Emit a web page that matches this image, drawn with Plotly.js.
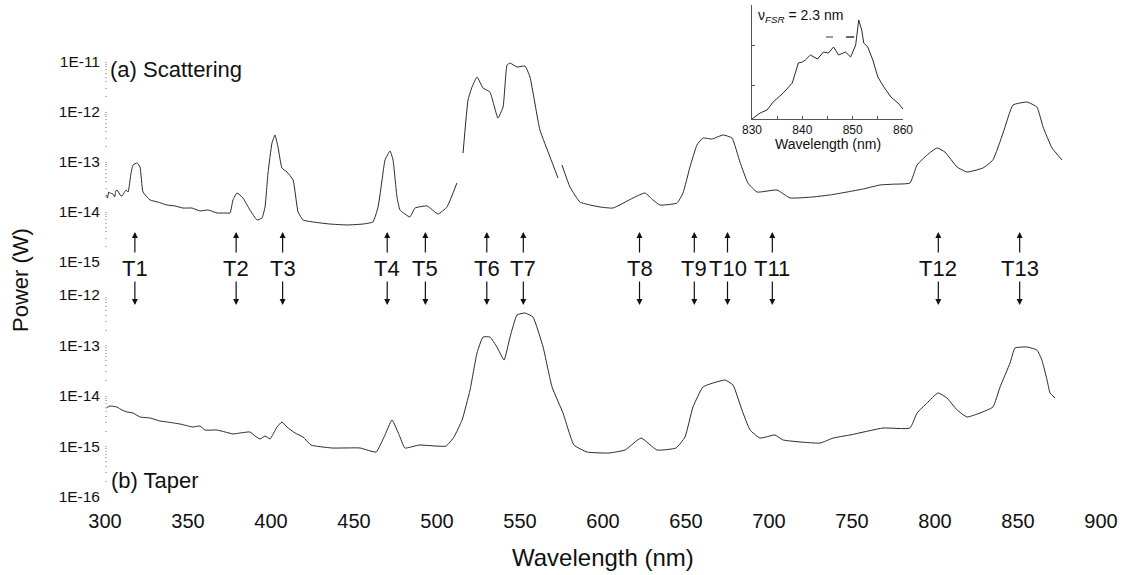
<!DOCTYPE html>
<html>
<head>
<meta charset="utf-8">
<script src="https://cdn.plot.ly/plotly-3.0.1.min.js"></script>
<style>html,body{margin:0;padding:0;background:#fff;}#chart{width:1136px;height:575px;}</style>
</head>
<body>
<div id="chart"></div>
<script>
// ---- Data ----
// (a) Scattering spectrum (W); null = gap in the trace
const wlScatter = [300.6,301.5,302.2,303.0,304.8,305.8,306.6,307.8,309.0,310.2,311.4,312.7,313.9,315.7,316.9,319.3,321.1,322.9,327.1,331.9,337.3,342.2,347.0,352.4,357.2,362.0,367.5,372.3,375.3,377.1,379.5,383.1,387.3,391.6,394.6,396.4,398.2,400.6,402.4,404.2,406.6,409.6,413.3,416.3,419.3,425.3,435.5,445.8,455.4,461.4,464.5,466.9,468.7,471.7,473.5,475.9,477.7,483.7,486.7,494.0,500.6,506.0,512.0,513.5,515.7,518.7,521.1,524.1,527.7,531.9,536.7,539.8,542.2,544.0,548.2,553.0,556.0,562.0,568.1,572.9,574.0,575.3,580.1,586.1,592.2,598.2,606.0,618.1,625.3,630.1,634.3,644.6,648.2,652.4,656.6,660.2,665.7,672.3,677.7,682.5,687.3,692.8,704.8,712.7,726.5,737.0,747.0,757.0,766.9,775.0,784.9,789.2,795.2,801.2,806.0,813.3,819.3,828.9,834.9,841.0,847.0,855.4,861.4,865.1,870.5,876.5];
const pScatter = [2.19e-14,1.90e-14,2.50e-14,2.40e-14,2.29e-14,2.00e-14,2.70e-14,2.63e-14,2.20e-14,2.09e-14,2.40e-14,2.75e-14,2.51e-14,6.03e-14,8.71e-14,9.55e-14,7.94e-14,2.51e-14,1.74e-14,1.58e-14,1.38e-14,1.32e-14,1.20e-14,1.20e-14,1.05e-14,1.10e-14,9.55e-15,9.55e-15,9.55e-15,1.74e-14,2.40e-14,1.91e-14,1.10e-14,6.92e-15,7.59e-15,1.26e-14,6.03e-14,2.40e-13,3.47e-13,2.00e-13,7.59e-14,6.31e-14,4.37e-14,1.00e-14,6.92e-15,6.31e-15,5.75e-15,5.50e-15,5.75e-15,6.31e-15,1.26e-14,4.37e-14,1.10e-13,1.66e-13,1.10e-13,2.00e-14,1.10e-14,7.94e-15,1.20e-14,1.32e-14,9.12e-15,1.26e-14,3.80e-14,null,1.51e-13,1.74e-12,3.16e-12,5.01e-12,3.02e-12,2.51e-12,7.59e-13,1.26e-12,8.71e-12,9.55e-12,7.94e-12,8.32e-12,5.01e-12,4.37e-13,1.26e-13,4.79e-14,null,8.71e-14,3.16e-14,1.58e-14,1.38e-14,1.26e-14,1.20e-14,1.91e-14,2.40e-14,1.74e-14,1.38e-14,1.51e-14,2.40e-14,7.94e-14,2.19e-13,3.02e-13,2.88e-13,3.47e-13,3.02e-13,1.00e-13,3.80e-14,2.51e-14,2.75e-14,1.91e-14,2.00e-14,2.20e-14,2.51e-14,2.90e-14,3.47e-14,3.60e-14,3.80e-14,8.71e-14,1.38e-13,1.91e-13,1.58e-13,7.94e-14,6.31e-14,7.59e-14,1.10e-13,3.80e-13,1.38e-12,1.58e-12,1.26e-12,5.01e-13,1.91e-13,1.10e-13];

// (b) Taper spectrum (W)
const wlTaper = [300.6,303.0,307.2,310.2,313.3,316.9,321.1,327.1,333.1,337.3,345.2,353.0,357.2,360.2,367.5,372.3,377.1,381.3,387.3,390.4,393.4,396.4,399.4,403.6,406.6,409.6,414.5,419.3,424.1,436.7,453.6,463.3,468.1,472.9,477.7,480.7,489.2,505.4,510.2,515.1,519.9,524.1,527.7,531.9,536.1,540.4,544.0,548.2,553.0,557.8,563.9,569.3,575.9,582.5,590.4,603.6,613.3,622.9,632.5,644.0,649.4,654.2,660.2,666.3,673.5,678.3,683.7,688.6,694.6,703.6,708.4,730.7,738.6,748.8,768.7,784.9,789.2,795.2,801.8,807.2,813.3,819.3,827.1,834.9,839.2,845.2,848.2,855.4,861.4,864.4,867.5,869.3,872.3];
const pTaper = [5.78e-15,6.34e-15,6.05e-15,5.28e-15,4.82e-15,4.60e-15,3.84e-15,3.67e-15,3.20e-15,3.06e-15,2.79e-15,2.43e-15,2.55e-15,2.12e-15,2.12e-15,1.94e-15,1.77e-15,1.85e-15,1.94e-15,1.61e-15,1.41e-15,1.61e-15,1.41e-15,2.43e-15,3.06e-15,2.43e-15,1.85e-15,1.54e-15,1.07e-15,9.34e-16,9.34e-16,7.78e-16,1.54e-15,3.35e-15,1.54e-15,9.34e-16,1.07e-15,1.02e-15,1.54e-15,3.35e-15,1.31e-14,7.10e-14,1.47e-13,1.47e-13,9.34e-14,5.16e-14,1.47e-13,4.02e-13,4.40e-13,3.67e-13,9.34e-14,1.51e-14,4.60e-15,1.07e-15,7.78e-16,7.43e-16,8.53e-16,1.47e-15,8.53e-16,9.34e-16,1.54e-15,6.05e-15,1.51e-14,1.81e-14,2.07e-14,1.65e-14,5.28e-15,2.12e-15,1.47e-15,1.69e-15,1.35e-15,1.17e-15,1.47e-15,1.69e-15,2.32e-15,2.32e-15,4.60e-15,7.27e-15,1.15e-14,9.12e-15,5.28e-15,3.84e-15,4.60e-15,6.05e-15,1.51e-14,4.50e-14,8.91e-14,9.34e-14,8.15e-14,5.16e-14,2.07e-14,1.15e-14,9.12e-15];

// Inset: T13 band detail (arbitrary units)
const wlInset = [830.0,831.6,833.0,834.2,836.2,838.0,839.2,840.0,840.6,841.6,843.0,844.2,845.2,846.2,847.2,848.6,849.6,850.6,851.2,851.8,852.2,853.0,854.0,855.0,856.2,857.6,859.0,860.0];
const iInset = [0.15,0.30,0.375,0.575,0.80,1.05,1.55,1.575,1.625,1.75,1.65,1.825,1.80,1.95,1.75,1.825,1.70,2.00,2.625,2.375,2.05,1.95,1.625,1.20,0.95,0.70,0.55,0.40];
const fsrDashStart = [844.7, 848.7];
const fsrDashEnd = [846.1, 850.3];
const fsrDashLevel = 2.2;

// Transition labels and their wavelengths (nm)
const tLabels = ['T1','T2','T3','T4','T5','T6','T7','T8','T9','T10','T11','T12','T13'];
const tWavelengths = [318,379,407,470,493,530,552,622,655,675,702,802,851];

// Tick labels
const xTicks = [300,350,400,450,500,550,600,650,700,750,800,850,900];
const topTickVals = [1e-11,1e-12,1e-13,1e-14,1e-15];
const topTickText = ['1E-11','1E-12','1E-13','1E-14','1E-15'];
const botTickVals = [1e-12,1e-13,1e-14,1e-15,1e-16];
const botTickText = ['1E-12','1E-13','1E-14','1E-15','1E-16'];
const insetXTicks = [830,840,850,860];

// ---- Build ----
function minorLogTicks(e0, e1){ const v=[]; for(let e=e0;e<e1;e++){ for(let d=2;d<=9;d++){ v.push(d*Math.pow(10,e)); } } return v; }

const lineStyle = {color:'#2a2a2a', width:1, shape:'spline', smoothing:0.4};
const traces = [
  {x: wlScatter, y: pScatter, xaxis:'x', yaxis:'y', mode:'lines', line: lineStyle, connectgaps:false, hoverinfo:'skip'},
  {x: wlTaper, y: pTaper, xaxis:'x', yaxis:'y2', mode:'lines', line: lineStyle, connectgaps:false, hoverinfo:'skip'},
  {x: wlInset, y: iInset, xaxis:'x2', yaxis:'y3', mode:'lines', line: {color:'#2a2a2a', width:1}, hoverinfo:'skip'}
];

const H = 492, TOPPX = 5, BOTPX = 497;
const py = px => (BOTPX - px) / H;           // pixel row -> paper y
const pxX = px => (px - 105) / 996;          // pixel col -> paper x

const font = 'Liberation Sans, Arial, Helvetica, sans-serif';
const annotations = [];
annotations.push({text:'(a) Scattering', xref:'paper', yref:'paper', x:pxX(108), y:py(70), xanchor:'left', yanchor:'middle', showarrow:false, font:{size:22, color:'#111'}});
annotations.push({text:'(b) Taper', xref:'paper', yref:'paper', x:pxX(109), y:py(480), xanchor:'left', yanchor:'middle', showarrow:false, font:{size:22, color:'#111'}});
annotations.push({text:'Power (W)', xref:'paper', yref:'paper', x:pxX(20), y:py(280), xanchor:'center', yanchor:'middle', textangle:-90, showarrow:false, font:{size:22, color:'#111'}});
annotations.push({text:'Wavelength (nm)', xref:'paper', yref:'paper', x:pxX(603), y:py(557), xanchor:'center', yanchor:'middle', showarrow:false, font:{size:24, color:'#111'}});
annotations.push({text:'ν<sub><i>FSR</i></sub> = 2.3 nm', xref:'paper', yref:'paper', x:pxX(756), y:py(16), xanchor:'left', yanchor:'middle', showarrow:false, font:{size:14, color:'#111'}});
annotations.push({text:'Wavelength (nm)', xref:'paper', yref:'paper', x:pxX(828), y:py(144), xanchor:'center', yanchor:'middle', showarrow:false, font:{size:14, color:'#111'}});

tLabels.forEach((lab, i) => {
  const wx = tWavelengths[i];
  annotations.push({text:lab, xref:'x', yref:'paper', x:wx, y:py(268), xanchor:'center', yanchor:'middle', showarrow:false, font:{size:22, color:'#111'}});
  annotations.push({text:'', xref:'x', yref:'paper', x:wx, y:py(232), ax:0, ay:22, showarrow:true, arrowhead:2, arrowsize:1, arrowwidth:1.2, arrowcolor:'#111'});
  annotations.push({text:'', xref:'x', yref:'paper', x:wx, y:py(305), ax:0, ay:-25, showarrow:true, arrowhead:2, arrowsize:1, arrowwidth:1.2, arrowcolor:'#111'});
});

const shapes = fsrDashStart.map((s, i) => ({type:'line', xref:'x2', yref:'y3', x0:s, x1:fsrDashEnd[i], y0:fsrDashLevel, y1:fsrDashLevel, line:{color: i===0 ? '#9a9a9a' : '#333', width: i===0 ? 2 : 1.5}}));

const dotTick = {ticks:'inside', ticklen:2, tickcolor:'#bbb', tickwidth:1};
const layout = {
  width:1136, height:575,
  margin:{l:105, r:35, t:TOPPX, b:575-BOTPX, pad:0},
  paper_bgcolor:'#fff', plot_bgcolor:'rgba(0,0,0,0)',
  showlegend:false,
  font:{family:font, color:'#111'},
  xaxis:{domain:[0,1], anchor:'y2', range:[300,900], tickmode:'array', tickvals:xTicks, ticks:'outside', ticklen:6, tickcolor:'rgba(0,0,0,0)', tickfont:{size:20}, showgrid:false, zeroline:false, showline:false},
  yaxis:Object.assign({domain:[py(262),1], anchor:'x', type:'log', range:[-15, -15 + (262-TOPPX)/50], tickmode:'array', tickvals:topTickVals, ticktext:topTickText, tickfont:{size:15.5}, showgrid:false, zeroline:false, showline:false, ticklabelstandoff:4,
    minor:Object.assign({tickmode:'array', tickvals:minorLogTicks(-15,-11)}, dotTick)}, dotTick),
  yaxis2:Object.assign({domain:[0, py(295)], anchor:'x', type:'log', range:[-16,-12], tickmode:'array', tickvals:botTickVals, ticktext:botTickText, tickfont:{size:15.5}, showgrid:false, zeroline:false, showline:false, ticklabelstandoff:4,
    minor:Object.assign({tickmode:'array', tickvals:minorLogTicks(-16,-12)}, dotTick)}, dotTick),
  xaxis2:{domain:[pxX(752), pxX(903)], anchor:'y3', range:[830,860], tickmode:'array', tickvals:insetXTicks, ticks:'inside', ticklen:3, tickcolor:'#555', minor:{tickmode:'linear', tick0:830, dtick:5, ticks:'inside', ticklen:3, tickcolor:'#555'}, showline:true, linecolor:'#555', linewidth:1, tickfont:{size:12}, showgrid:false, zeroline:false},
  yaxis3:{domain:[py(119), 1], anchor:'x2', range:[0.15,3], tickmode:'array', tickvals:[1,2,3], ticks:'inside', ticklen:3, tickcolor:'#555', showticklabels:false, showline:true, linecolor:'#555', linewidth:1, showgrid:false, zeroline:false},
  annotations: annotations,
  shapes: shapes
};

Plotly.newPlot('chart', traces, layout, {staticPlot:true, displayModeBar:false});
</script>
</body>
</html>
